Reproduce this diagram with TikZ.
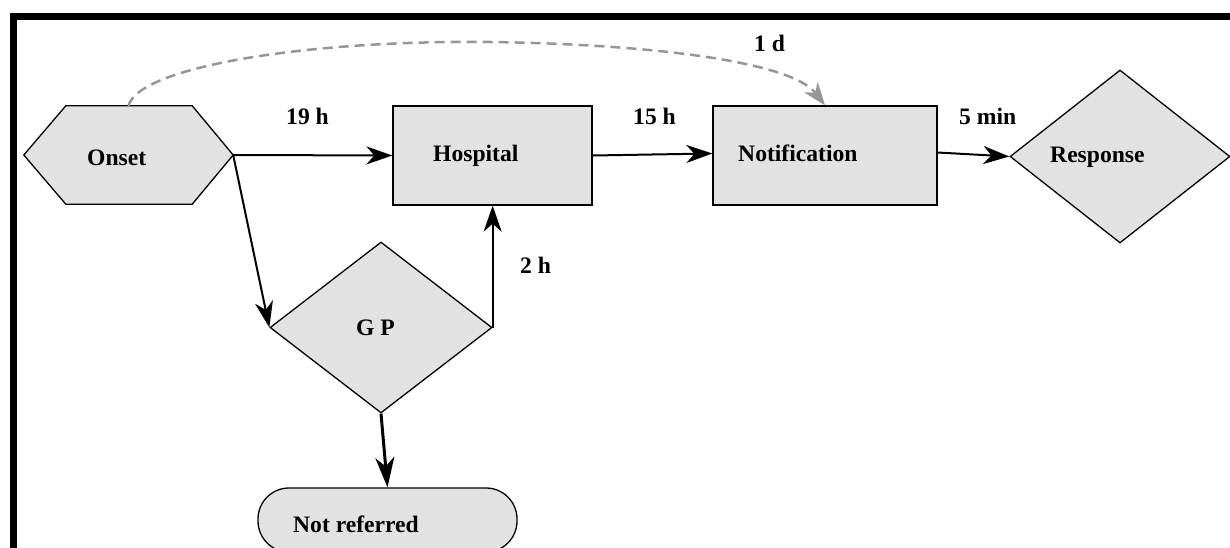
\documentclass[tikz,border=0pt]{standalone}
\usepackage{fontspec}
\setmainfont{Liberation Serif}
\usetikzlibrary{arrows.meta,shapes.geometric,shapes.misc}
\definecolor{boxgray}{RGB}{226,226,226}
\definecolor{dashgray}{RGB}{150,150,150}
\begin{document}
\begin{tikzpicture}[x=1pt,y=-1pt,
  shapebox/.style={draw=black, line width=1.3pt, fill=boxgray, inner sep=0pt},
  lbl/.style={font=\fontsize{23.6}{26}\selectfont\bfseries, inner sep=0pt, anchor=base west},
  conn/.style={line width=2pt, -{Stealth[length=26pt,width=18pt,inset=8pt]}},
  thickconn/.style={line width=3pt, -{Stealth[length=30pt,width=19pt,inset=9pt]}},
  dashconn/.style={draw=dashgray, line width=2.5pt, dash pattern=on 10pt off 6pt,
    -{Stealth[length=23pt,width=17pt,inset=7pt]}}]
\useasboundingbox (0,0) rectangle (1230,548);
% frame
\fill[black] (10,13) rectangle (1230,20);
\fill[black] (10,13) rectangle (17,548);
% Onset hexagon
\node[minimum width=209pt, minimum height=98pt, inner sep=0pt] (onset) at (128.5,155) {};
\filldraw[draw=black, line width=1.3pt, fill=boxgray]
  (onset.west) -- ([xshift=42pt]onset.north west) -- ([xshift=-41pt]onset.north east)
  -- (onset.east) -- ([xshift=-41pt]onset.south east) -- ([xshift=42pt]onset.south west) -- cycle;
% shapes
\node[rectangle, shapebox, minimum width=199pt, minimum height=99pt] (hosp) at (492.5,155.5) {};
\node[rectangle, shapebox, minimum width=224pt, minimum height=99pt] (notif) at (825,155.5) {};
\node[diamond, shapebox, minimum width=220pt, minimum height=173pt] (resp) at (1120,156.5) {};
\node[diamond, shapebox, minimum width=222pt, minimum height=171pt] (gp) at (381,327.5) {};
\node[rectangle, rounded corners=31pt, shapebox, minimum width=259pt, minimum height=64pt] (nr) at (387.5,520) {};
% texts
\node[lbl] (onsett) at (87,166) {Onset};
\node[lbl] (hospt) at (433,162) {Hospital};
\node[lbl] (notift) at (738,162) {Notification};
\node[lbl] (respt) at (1050,163) {Response};
\node[lbl] (gpt) at (356,335) {G P};
\node[lbl] (nrt) at (293,532) {Not referred};
% connectors
\draw[conn] (onset.east) -- (hosp.west);
\draw[conn] (onset.east) -- (gp.west);
\draw[conn] (gp.east) -- (gp.east |- hosp.south);
\draw[conn] (hosp.east) -- ([yshift=2pt]notif.west);
\draw[conn] ([yshift=3pt]notif.east) -- (resp.west);
\draw[thickconn] (gp.south) -- (nr.north);
\coordinate (dpeak) at (490,42);
\draw[dashconn] (onset.north) .. controls (138,68) and (300,40) .. (dpeak)
  .. controls (640,44) and (790,60) .. (notif.north);
% edge labels
\node[lbl] (l19) at (286,125) {19 h};
\node[lbl] (l15) at (633,125) {15 h};
\node[lbl] (l5) at (959,125) {5 min};
\node[lbl] (l2) at (520,273) {2 h};
\node[lbl] (l1) at (754,52) {1 d};
\end{tikzpicture}
\end{document}
